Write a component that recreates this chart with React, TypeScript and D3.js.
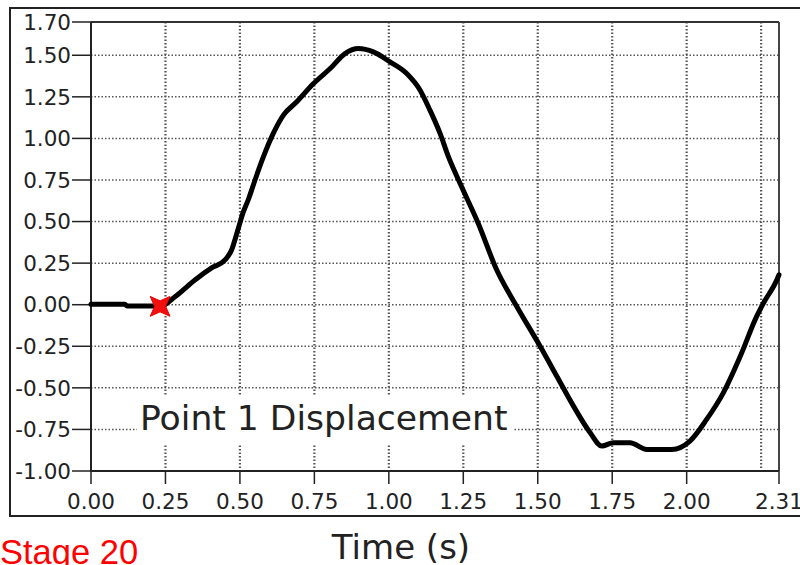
import React from "react";
import * as d3 from "d3";

const times = [0, 0.114, 0.121, 0.235, 0.282, 0.349, 0.405, 0.45, 0.472, 0.493, 0.51, 0.53, 0.545, 0.579, 0.612, 0.646, 0.691, 0.747, 0.803, 0.853, 0.898, 0.948, 1.004, 1.06, 1.105, 1.138, 1.172, 1.2, 1.239, 1.3, 1.362, 1.43, 1.508, 1.564, 1.62, 1.676, 1.715, 1.754, 1.81, 1.866, 1.95, 2.011, 2.067, 2.123, 2.18, 2.235, 2.258, 2.303, 2.31];
const displacement = [0.002, 0.002, -0.008, -0.008, 0.048, 0.149, 0.221, 0.269, 0.329, 0.449, 0.551, 0.64, 0.72, 0.89, 1.03, 1.14, 1.22, 1.33, 1.42, 1.51, 1.54, 1.52, 1.46, 1.39, 1.29, 1.17, 1.03, 0.89, 0.73, 0.49, 0.21, -0.012, -0.25, -0.43, -0.61, -0.77, -0.85, -0.83, -0.83, -0.87, -0.87, -0.82, -0.69, -0.53, -0.31, -0.07, 0.01, 0.15, 0.18];

const markerTime = 0.232;
const markerValue = -0.01;

const xTicks = [0, 0.25, 0.5, 0.75, 1.0, 1.25, 1.5, 1.75, 2.0, 2.31];
const xGrid = [0.25, 0.5, 0.75, 1.0, 1.25, 1.5, 1.75, 2.0, 2.25];
const yTicks = [1.7, 1.5, 1.25, 1.0, 0.75, 0.5, 0.25, 0, -0.25, -0.5, -0.75, -1.0];
const yGrid = [1.5, 1.25, 1.0, 0.75, 0.5, 0.25, 0, -0.25, -0.5, -0.75];

const seriesLabel = "Point 1 Displacement";
const xTitle = "Time (s)";
const stageLabel = "Stage 20";

export default function App() {
  const W = 800, H = 565;
  const left = 91, right = 779, top = 22, bottom = 471;
  const x = d3.scaleLinear().domain([0, 2.31]).range([left, right]);
  const y = d3.scaleLinear().domain([-1, 1.7]).range([bottom, top]);
  const data = times.map((t, i) => [t, displacement[i]] as [number, number]);
  const line = d3.line<[number, number]>().x(d => x(d[0])).y(d => y(d[1])).curve(d3.curveMonotoneX);

  const fmt = (v: number) => (v < 0 ? "-" : "") + Math.abs(v).toFixed(2);
  const font = "'DejaVu Sans', Verdana, sans-serif";

  const cx = x(markerTime), cy = y(markerValue);
  const R = 14, r = 5.5;
  const pts: string[] = [];
  for (let i = 0; i < 8; i++) {
    const a = Math.PI / 4 + (i * Math.PI) / 4;
    const rr = i % 2 === 0 ? R : r;
    pts.push(`${cx + rr * Math.cos(a)},${cy + rr * Math.sin(a)}`);
  }

  return (
    <svg width={W} height={H} style={{ position: "absolute", left: 0, top: 0, background: "#fff" }}>
      <rect x={0} y={0} width={W} height={H} fill="#fff" />
      <path d={`M${W + 5},516 H10 V8 H${W + 5}`} fill="none" stroke="#222" strokeWidth={2} />
      {yGrid.map(v => (
        <line key={"hy" + v} x1={left} x2={right} y1={y(v)} y2={y(v)} stroke="#555" strokeWidth={1.5} strokeDasharray="1.5,2" />
      ))}
      {xGrid.map(v => (
        <line key={"vx" + v} x1={x(v)} x2={x(v)} y1={top} y2={bottom} stroke="#555" strokeWidth={2.2} strokeDasharray="1.5,2" />
      ))}
      <rect x={137} y={396} width={376} height={48} fill="#fff" />
      <text x={140} y={430} fontFamily={font} fontSize={34.6} fill="#222">{seriesLabel}</text>
      <line x1={left} x2={right} y1={top} y2={top} stroke="#333" strokeWidth={2} />
      <line x1={right} x2={right} y1={top} y2={bottom} stroke="#444" strokeWidth={2} />
      <line x1={left} x2={left} y1={top} y2={bottom} stroke="#222" strokeWidth={2} />
      <line x1={left} x2={right} y1={bottom} y2={bottom} stroke="#222" strokeWidth={2} />
      {yTicks.map(v => (
        <g key={"yt" + v}>
          <line x1={72} x2={left} y1={y(v)} y2={y(v)} stroke="#222" strokeWidth={1.5} />
          <text x={71} y={y(v)} dy="0.36em" textAnchor="end" fontFamily={font} fontSize={21.5} fill="#222">{fmt(v)}</text>
        </g>
      ))}
      {xTicks.map(v => (
        <g key={"xt" + v}>
          <line x1={x(v)} x2={x(v)} y1={bottom} y2={bottom + 13} stroke="#222" strokeWidth={1.5} />
          <text x={x(v)} y={509} textAnchor="middle" fontFamily={font} fontSize={21.5} fill="#222">{fmt(v)}</text>
        </g>
      ))}
      <path d={line(data) || ""} fill="none" stroke="#000" strokeWidth={5} strokeLinejoin="round" strokeLinecap="round" />
      <polygon points={pts.join(" ")} fill="#f01010" stroke="#e00" strokeWidth={1} />
      <text x={401} y={559} textAnchor="middle" fontFamily={font} fontSize={34} fill="#222">{xTitle}</text>
      <text x={0} y={564} fontFamily="'Liberation Sans', Arial, sans-serif" fontSize={34.5} fill="#f00">{stageLabel}</text>
    </svg>
  );
}
